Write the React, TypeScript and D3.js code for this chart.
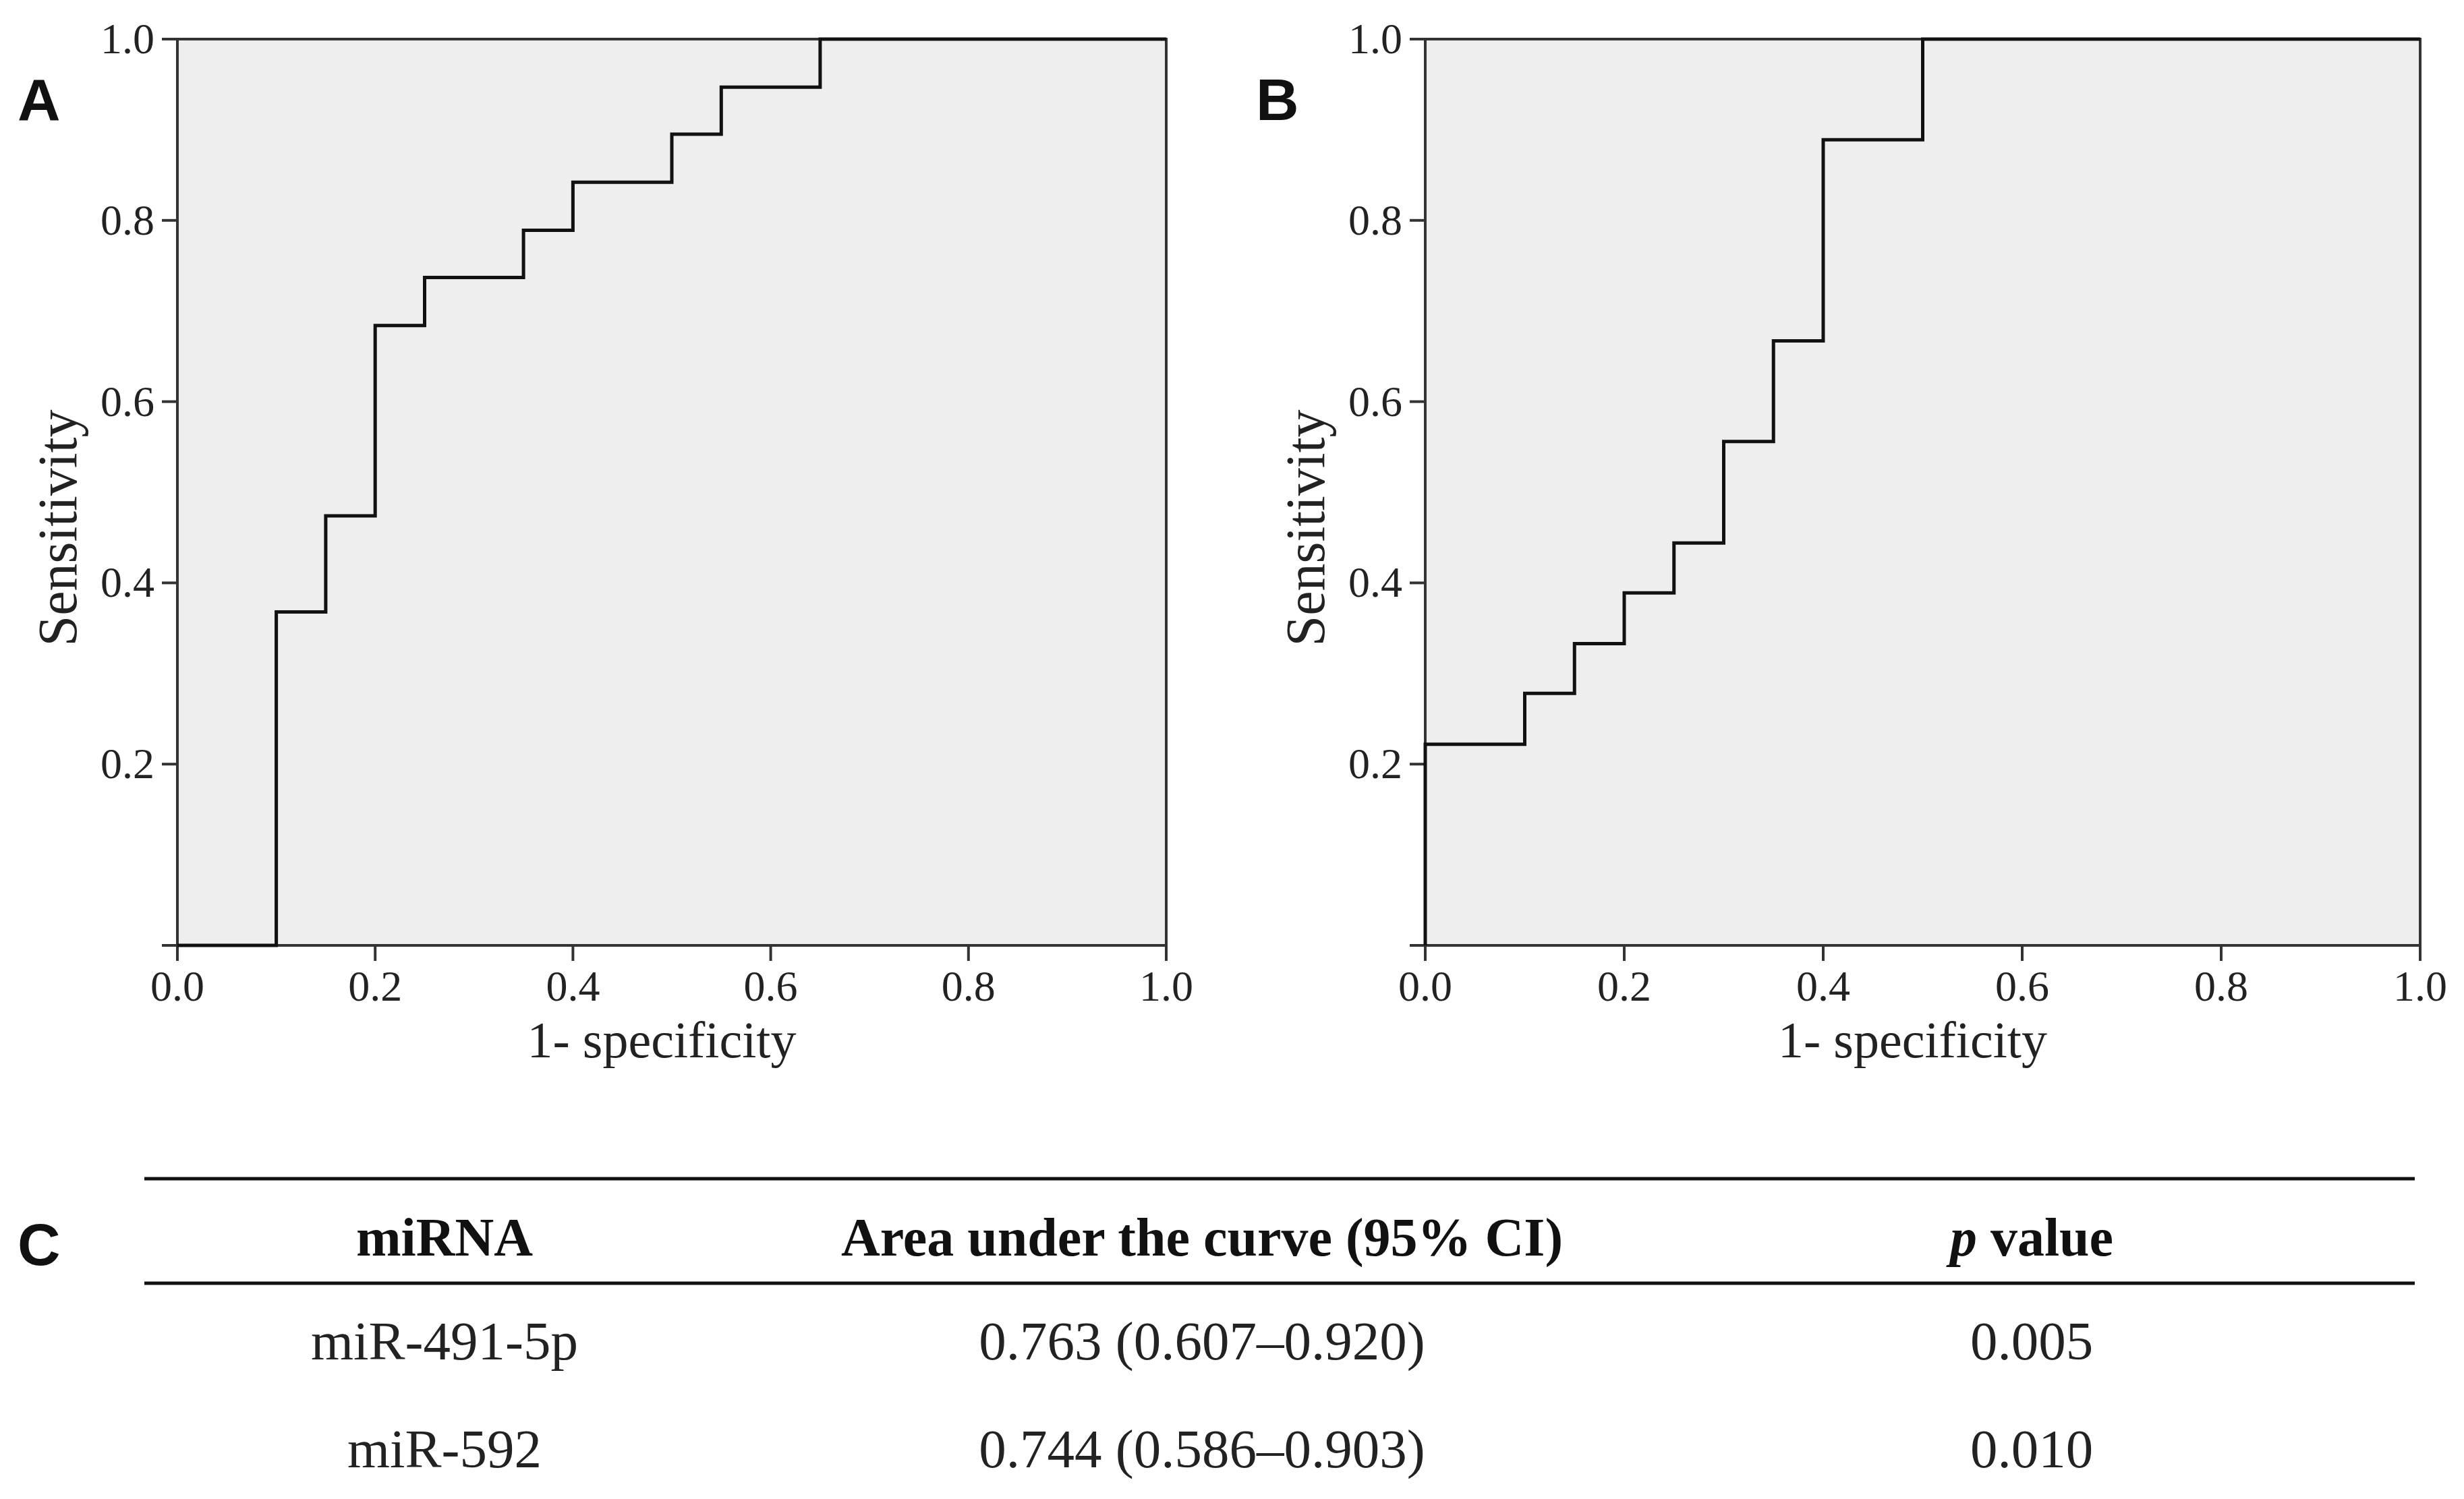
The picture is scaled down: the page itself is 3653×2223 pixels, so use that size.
import React, { useEffect, useRef } from 'react';
import * as d3 from 'd3';

// ROC step points (1 - specificity, sensitivity), drawn with step-after
const fprA = [0, 0.1, 0.15, 0.2, 0.25, 0.35, 0.4, 0.5, 0.55, 0.65, 1.0];
const tprA = [0, 0.368, 0.474, 0.684, 0.737, 0.789, 0.842, 0.895, 0.947, 1.0, 1.0];

const fprB = [0, 0, 0.1, 0.15, 0.2, 0.25, 0.3, 0.35, 0.4, 0.5, 1.0];
const tprB = [0, 0.222, 0.278, 0.333, 0.389, 0.444, 0.556, 0.667, 0.889, 1.0, 1.0];

const xTicks = [0, 0.2, 0.4, 0.6, 0.8, 1.0];
const yTicks = [0, 0.2, 0.4, 0.6, 0.8, 1.0];

// table C
const tableHeaders = ['miRNA', 'Area under the curve (95% CI)', 'p value'];
const mirnas = ['miR-491-5p', 'miR-592'];
const aucs = ['0.763 (0.607\u20130.920)', '0.744 (0.586\u20130.903)'];
const pValues = ['0.005', '0.010'];

const W = 3653;
const H = 2223;
const serif = '"Liberation Serif", "Times New Roman", serif';
const sans = '"Liberation Sans", Arial, sans-serif';

const App = () => {
  const svgRef = useRef(null);

  useEffect(() => {
    const svg = d3.select(svgRef.current);
    svg.selectAll('*').remove();

    svg.append('rect').attr('width', W).attr('height', H).attr('fill', '#ffffff');

    const drawPanel = (left, right, fpr, tpr, letter, letterX) => {
      const top = 58;
      const bottom = 1402;
      const x = d3.scaleLinear().domain([0, 1]).range([left, right]);
      const y = d3.scaleLinear().domain([0, 1]).range([bottom, top]);
      const g = svg.append('g');

      g.append('rect')
        .attr('x', left).attr('y', top)
        .attr('width', right - left).attr('height', bottom - top)
        .attr('fill', '#eeeeee')
        .attr('stroke', '#333')
        .attr('stroke-width', 4);

      // y ticks
      g.selectAll('.ytick')
        .data(yTicks)
        .enter()
        .append('line')
        .attr('x1', left - 23).attr('x2', left)
        .attr('y1', d => y(d)).attr('y2', d => y(d))
        .attr('stroke', '#333').attr('stroke-width', 4);

      g.selectAll('.ylab')
        .data(yTicks.filter(d => d > 0))
        .enter()
        .append('text')
        .attr('x', left - 34)
        .attr('y', d => y(d) + 21)
        .attr('text-anchor', 'end')
        .style('font-family', serif)
        .style('font-size', '64px')
        .attr('fill', '#222')
        .text(d => d.toFixed(1));

      // x ticks
      g.selectAll('.xtick')
        .data(xTicks)
        .enter()
        .append('line')
        .attr('x1', d => x(d)).attr('x2', d => x(d))
        .attr('y1', bottom).attr('y2', bottom + 23)
        .attr('stroke', '#333').attr('stroke-width', 4);

      g.selectAll('.xlab')
        .data(xTicks)
        .enter()
        .append('text')
        .attr('x', d => x(d))
        .attr('y', bottom + 82)
        .attr('text-anchor', 'middle')
        .style('font-family', serif)
        .style('font-size', '64px')
        .attr('fill', '#222')
        .text(d => d.toFixed(1));

      // axis titles
      g.append('text')
        .attr('x', (left + right) / 2 - 15)
        .attr('y', 1568)
        .attr('text-anchor', 'middle')
        .style('font-family', serif)
        .style('font-size', '76px')
        .attr('fill', '#222')
        .text('1- specificity');

      g.append('text')
        .attr('transform', `translate(${left - 150}, ${(top + bottom) / 2 + 53}) rotate(-90)`)
        .attr('text-anchor', 'middle')
        .style('font-family', serif)
        .style('font-size', '82px')
        .attr('fill', '#222')
        .text('Sensitivity');

      // ROC curve
      const pts = fpr.map((f, i) => [f, tpr[i]]);
      const line = d3.line()
        .x(d => x(d[0]))
        .y(d => y(d[1]))
        .curve(d3.curveStepAfter);

      g.append('path')
        .attr('d', line(pts))
        .attr('fill', 'none')
        .attr('stroke', '#111')
        .attr('stroke-width', 5);

      // panel letter
      svg.append('text')
        .attr('x', letterX)
        .attr('y', 178)
        .style('font-family', sans)
        .style('font-weight', 'bold')
        .style('font-size', '88px')
        .attr('fill', '#111')
        .text(letter);
    };

    drawPanel(263, 1729, fprA, tprA, 'A', 26);
    drawPanel(2113, 3588, fprB, tprB, 'B', 1862);

    // table C
    const colX = [659, 1782, 3012];
    const t = svg.append('g');
    t.append('line')
      .attr('x1', 214).attr('x2', 3580)
      .attr('y1', 1748).attr('y2', 1748)
      .attr('stroke', '#111').attr('stroke-width', 5);
    t.append('line')
      .attr('x1', 214).attr('x2', 3580)
      .attr('y1', 1903).attr('y2', 1903)
      .attr('stroke', '#111').attr('stroke-width', 5);

    const head = t.selectAll('.head')
      .data(tableHeaders)
      .enter()
      .append('text')
      .attr('x', (d, i) => colX[i])
      .attr('y', 1862)
      .attr('text-anchor', 'middle')
      .style('font-family', serif)
      .style('font-weight', 'bold')
      .style('font-size', '80px')
      .attr('fill', '#111');
    head.each(function (d) {
      const el = d3.select(this);
      if (d === 'p value') {
        el.append('tspan').style('font-style', 'italic').text('p');
        el.append('tspan').text(' value');
      } else {
        el.text(d);
      }
    });

    const rows = mirnas.map((m, i) => [m, aucs[i], pValues[i]]);
    rows.forEach((row, r) => {
      t.selectAll(`.row${r}`)
        .data(row)
        .enter()
        .append('text')
        .attr('x', (d, i) => colX[i])
        .attr('y', 2016 + r * 160)
        .attr('text-anchor', 'middle')
        .style('font-family', serif)
        .style('font-size', '81px')
        .attr('fill', '#222')
        .text(d => d);
    });

    svg.append('text')
      .attr('x', 26)
      .attr('y', 1876)
      .style('font-family', sans)
      .style('font-weight', 'bold')
      .style('font-size', '88px')
      .attr('fill', '#111')
      .text('C');
  }, []);

  return (
    <svg
      ref={svgRef}
      width={W}
      height={H}
      style={{ position: 'absolute', left: 0, top: 0 }}
    ></svg>
  );
};

export default App;
